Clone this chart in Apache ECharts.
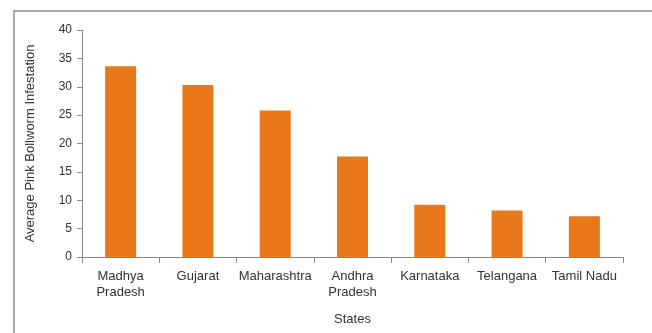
<!DOCTYPE html>
<html>
<head>
<meta charset="utf-8">
<script src="https://cdn.jsdelivr.net/npm/echarts@6/dist/echarts.min.js"></script>
<style>
  html, body { margin: 0; padding: 0; background: #fff; }
  #chart { width: 652px; height: 333px; }
</style>
</head>
<body>
<div id="chart"></div>
<script>
// Average pink bollworm infestation by state
const states = ['Madhya\nPradesh', 'Gujarat', 'Maharashtra', 'Andhra\nPradesh', 'Karnataka', 'Telangana', 'Tamil Nadu'];
const infestation = [33.6, 30.3, 25.8, 17.7, 9.2, 8.2, 7.2];
const yTicks = { min: 0, max: 40, step: 5 };

const FONT = '"Liberation Sans Narrow", "Arial Narrow", "Liberation Sans", sans-serif';
const AXIS_COLOR = '#8a8a8a';
const TEXT_COLOR = '#333333';

const chart = echarts.init(document.getElementById('chart'), null, { renderer: 'canvas' });
chart.setOption({
  animation: false,
  backgroundColor: '#fff',
  graphic: [{
    type: 'rect',
    shape: { x: 14, y: 11, width: 700, height: 400 },
    style: { fill: 'none', stroke: '#8f8f8f', lineWidth: 1.5 },
    silent: true
  }],
  grid: { left: 82, right: 29, top: 30, bottom: 76 },
  xAxis: {
    type: 'category',
    data: states,
    name: 'States',
    nameLocation: 'middle',
    nameGap: 56,
    nameTextStyle: { fontFamily: FONT, fontSize: 13, color: TEXT_COLOR },
    axisLine: { lineStyle: { color: AXIS_COLOR, width: 1 } },
    axisTick: { show: true, length: 6, alignWithLabel: false, lineStyle: { color: AXIS_COLOR } },
    axisLabel: { fontFamily: FONT, fontSize: 13, color: TEXT_COLOR, margin: 11, lineHeight: 16, interval: 0 }
  },
  yAxis: {
    type: 'value',
    min: yTicks.min,
    max: yTicks.max,
    interval: yTicks.step,
    name: 'Average Pink Bollworm Infestation',
    nameLocation: 'middle',
    nameGap: 45,
    nameRotate: 90,
    nameTextStyle: { fontFamily: FONT, fontSize: 13, color: TEXT_COLOR },
    axisLine: { show: true, lineStyle: { color: AXIS_COLOR, width: 1 } },
    axisTick: { show: true, length: 5, lineStyle: { color: AXIS_COLOR } },
    axisLabel: { fontFamily: FONT, fontSize: 12, color: TEXT_COLOR, margin: 10 },
    splitLine: { show: false }
  },
  series: [{
    type: 'bar',
    data: infestation,
    barWidth: 31,
    itemStyle: { color: '#E8781A' }
  }]
});
</script>
</body>
</html>
